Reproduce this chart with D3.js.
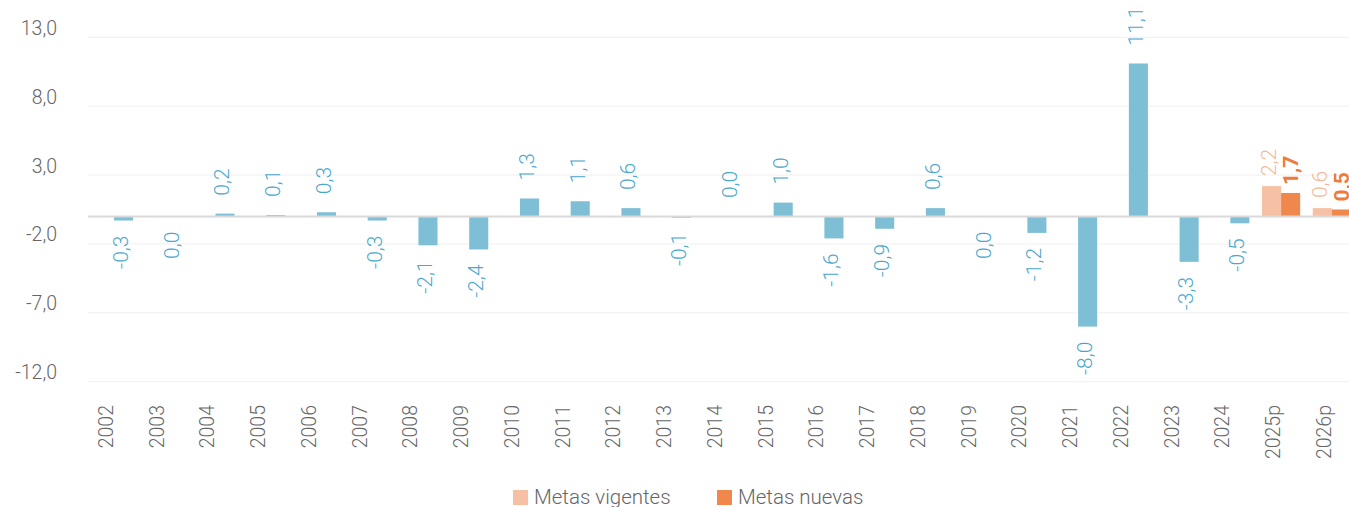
<!DOCTYPE html>
<html>
<head>
<meta charset="utf-8">
<script src="https://cdn.jsdelivr.net/npm/d3@7"></script>
<style>
  html, body { margin: 0; padding: 0; background: #fff; }
  svg { display: block; font-family: Roboto, "Noto Sans", sans-serif; }
</style>
</head>
<body>
<svg id="chart" width="1349" height="507"></svg>
<script>
// Years shown on the x axis
const categories = ["2002","2003","2004","2005","2006","2007","2008","2009","2010","2011",
  "2012","2013","2014","2015","2016","2017","2018","2019","2020","2021","2022","2023",
  "2024","2025p","2026p"];

// Historical values (one per year up to 2024)
const historico = [-0.3, -0.02, 0.2, 0.1, 0.3, -0.3, -2.1, -2.4, 1.3, 1.1,
  0.6, -0.1, 0.02, 1.0, -1.6, -0.9, 0.6, -0.02, -1.2, -8.0, 11.1, -3.3, -0.5];

// Projections for 2025p and 2026p
const metasVigentes = [2.2, 0.6];
const metasNuevas = [1.7, 0.5];
const proyeccionAnios = ["2025p", "2026p"];

// Y axis ticks
const yTicks = [-12, -7, -2, 3, 8, 13];

const seriesNames = ["Metas vigentes", "Metas nuevas"];

const colors = {
  hist: "#7fbfd5", histText: "#4aa7cb",
  vig: "#f6c0a5", vigText: "#f5b797",
  nue: "#f0874d", nueText: "#ee7a3c",
  axisText: "#666666", grid: "#efefef", zero: "#d9d9d9"
};

const svg = d3.select("#chart");

const x = d3.scaleBand().domain(categories).range([88.6, 1357.2]).paddingInner(0).paddingOuter(0);
const sub = d3.scaleBand().domain(["a", "b"]).range([0, x.bandwidth()]).paddingInner(0).paddingOuter(0.33);
const y = d3.scaleLinear().domain([-12, 13]).range([381.7, 37.3]);

// grid lines
svg.append("g").selectAll("line").data(yTicks).join("line")
  .attr("x1", 88).attr("x2", 1349)
  .attr("y1", d => y(d)).attr("y2", d => y(d))
  .attr("stroke", colors.grid).attr("stroke-width", 1);

// y axis labels
const fmt = v => {
  const r = Math.round(v * 10) / 10;
  const s = (r === 0 ? 0 : r).toFixed(1);
  return s.replace(".", ",");
};
svg.append("g").selectAll("text").data(yTicks).join("text")
  .attr("x", 57).attr("y", d => y(d) - 2.5)
  .attr("text-anchor", "end")
  .attr("font-size", 19.5).attr("font-weight", 300)
  .attr("fill", colors.axisText)
  .text(d => fmt(d));

// bar records
const bars = [];
historico.forEach((v, i) => bars.push({ cat: categories[i], slot: "b", v, fill: colors.hist, text: colors.histText, bold: false, gap: 18 }));
proyeccionAnios.forEach((c, i) => {
  bars.push({ cat: c, slot: "a", v: metasVigentes[i], fill: colors.vig, text: colors.vigText, bold: false, gap: 10 });
  bars.push({ cat: c, slot: "b", v: metasNuevas[i], fill: colors.nue, text: colors.nueText, bold: true, gap: 8 });
});

const y0 = y(0);
svg.append("g").selectAll("rect").data(bars).join("rect")
  .attr("x", d => x(d.cat) + sub(d.slot))
  .attr("width", sub.bandwidth())
  .attr("y", d => Math.min(y(d.v), y0))
  .attr("height", d => Math.abs(y(d.v) - y0))
  .attr("fill", d => d.fill);

// zero line
svg.append("line")
  .attr("x1", 88).attr("x2", 1349)
  .attr("y1", y0).attr("y2", y0)
  .attr("stroke", colors.zero).attr("stroke-width", 2);

// value labels, rotated
svg.append("g").selectAll("text").data(bars).join("text")
  .attr("transform", d => {
    const cx = x(d.cat) + sub(d.slot) + sub.bandwidth() / 2 - (d.bold ? 0 : 3);
    const cy = d.v >= 0 ? y(d.v) - d.gap : y(d.v) + 15;
    return `translate(${cx},${cy}) rotate(-90)`;
  })
  .attr("text-anchor", d => d.v >= 0 ? "start" : "end")
  .attr("dy", "0.35em")
  .attr("font-size", 21)
  .attr("font-weight", d => d.bold ? 700 : 300)
  .attr("fill", d => d.text)
  .text(d => fmt(d.v));

// x axis labels
svg.append("g").selectAll("text").data(categories).join("text")
  .attr("transform", d => `translate(${x(d) + x.bandwidth() / 2 - 1},405) rotate(-90)`)
  .attr("text-anchor", "end")
  .attr("dy", "0em")
  .attr("font-size", 19.5).attr("font-weight", 300)
  .attr("fill", colors.axisText)
  .text(d => d);

// legend
const legend = svg.append("g");
const legendItems = [
  { name: seriesNames[0], color: colors.vig, x: 513 },
  { name: seriesNames[1], color: colors.nue, x: 717 }
];
const li = legend.selectAll("g").data(legendItems).join("g")
  .attr("transform", d => `translate(${d.x},490)`);
li.append("rect").attr("width", 15).attr("height", 15).attr("fill", d => d.color);
li.append("text").attr("x", 21).attr("y", 14)
  .attr("font-size", 20.5).attr("font-weight", 300)
  .attr("fill", colors.axisText)
  .text(d => d.name);
</script>
</body>
</html>
